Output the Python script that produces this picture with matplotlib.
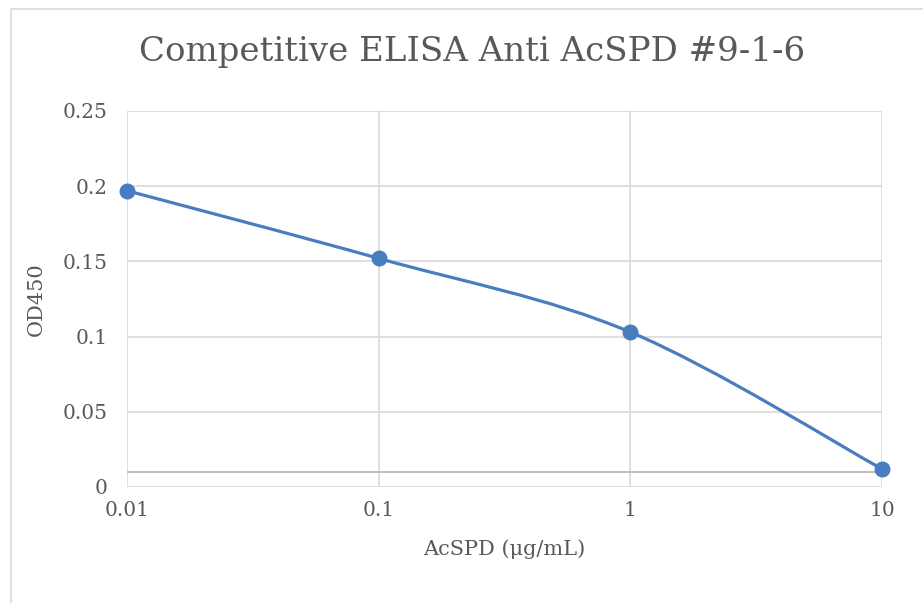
import matplotlib
matplotlib.use("Agg")
import matplotlib.pyplot as plt
import numpy as np
from matplotlib.path import Path
from matplotlib.patches import PathPatch, Rectangle

# data
conc = [0.01, 0.1, 1, 10]
od450 = [0.197, 0.152, 0.103, 0.012]
xticks = [0.01, 0.1, 1, 10]
xticklabels = ["0.01", "0.1", "1", "10"]
yticks = [0, 0.05, 0.1, 0.15, 0.2, 0.25]
yticklabels = ["0", "0.05", "0.1", "0.15", "0.2", "0.25"]

text_col = "#595959"
grid_col = "#d9d9d9"
line_col = "#4a7dbf"
plt.rcParams["font.family"] = ["DejaVu Serif"]

fig = plt.figure(figsize=(9.23, 6.03), dpi=100)
ax = fig.add_axes([127 / 923, 1 - 487 / 603, (882 - 127) / 923, (487 - 111) / 603])

# chart area border (only left/top visible in the crop)
fig.patches.append(Rectangle((10.5 / 923, -0.1), 1.2, 1 - 8.5 / 603 + 0.1,
                             transform=fig.transFigure, fill=False,
                             edgecolor=grid_col, linewidth=1.2))

ax.set_xscale("log")
ax.set_xlim(0.01, 10)
ax.set_ylim(0, 0.25)

# smoothed line like Excel (Catmull-Rom style Bezier in log-x space)
lx = np.log10(conc)
ly = np.array(od450)
n = len(lx)
verts = [(conc[0], od450[0])]
codes = [Path.MOVETO]
for i in range(n - 1):
    p0 = max(i - 1, 0)
    p3 = min(i + 2, n - 1)
    c1x = lx[i] + (lx[i + 1] - lx[p0]) / 6
    c1y = ly[i] + (ly[i + 1] - ly[p0]) / 6
    c2x = lx[i + 1] - (lx[p3] - lx[i]) / 6
    c2y = ly[i + 1] - (ly[p3] - ly[i]) / 6
    verts += [(10 ** c1x, c1y), (10 ** c2x, c2y), (conc[i + 1], od450[i + 1])]
    codes += [Path.CURVE4] * 3
ax.add_patch(PathPatch(Path(verts, codes), facecolor="none",
                       edgecolor=line_col, linewidth=2.3, zorder=3))
ax.plot(conc, od450, "o", color=line_col, markersize=10.5, zorder=4, clip_on=False)

# grid
for y in yticks:
    ax.axhline(y, color=grid_col, linewidth=1.2, zorder=1)
for x in xticks:
    ax.axvline(x, color=grid_col, linewidth=1.2, zorder=1)
# horizontal axis crosses at 0.01
ax.axhline(0.01, color="#bfbfbf", linewidth=1.5, zorder=2)

for s in ax.spines.values():
    s.set_visible(False)
ax.set_xticks(xticks)
ax.set_xticklabels(xticklabels)
ax.minorticks_off()
ax.set_yticks(yticks)
ax.set_yticklabels(yticklabels)
ax.tick_params(length=0, labelsize=14.5, colors=text_col)
ax.tick_params(axis="x", pad=10)
ax.tick_params(axis="y", pad=14)

fig.text(472 / 923, 1 - 52 / 603, "Competitive ELISA Anti AcSPD #9-1-6",
         fontsize=24.5, color=text_col, ha="center", va="center")
ax.set_xlabel("AcSPD (\u03bcg/mL)", fontsize=15, color=text_col, labelpad=14)
ax.set_ylabel("OD450", fontsize=15, color=text_col, labelpad=12)

fig.savefig("out.png", dpi=100)
